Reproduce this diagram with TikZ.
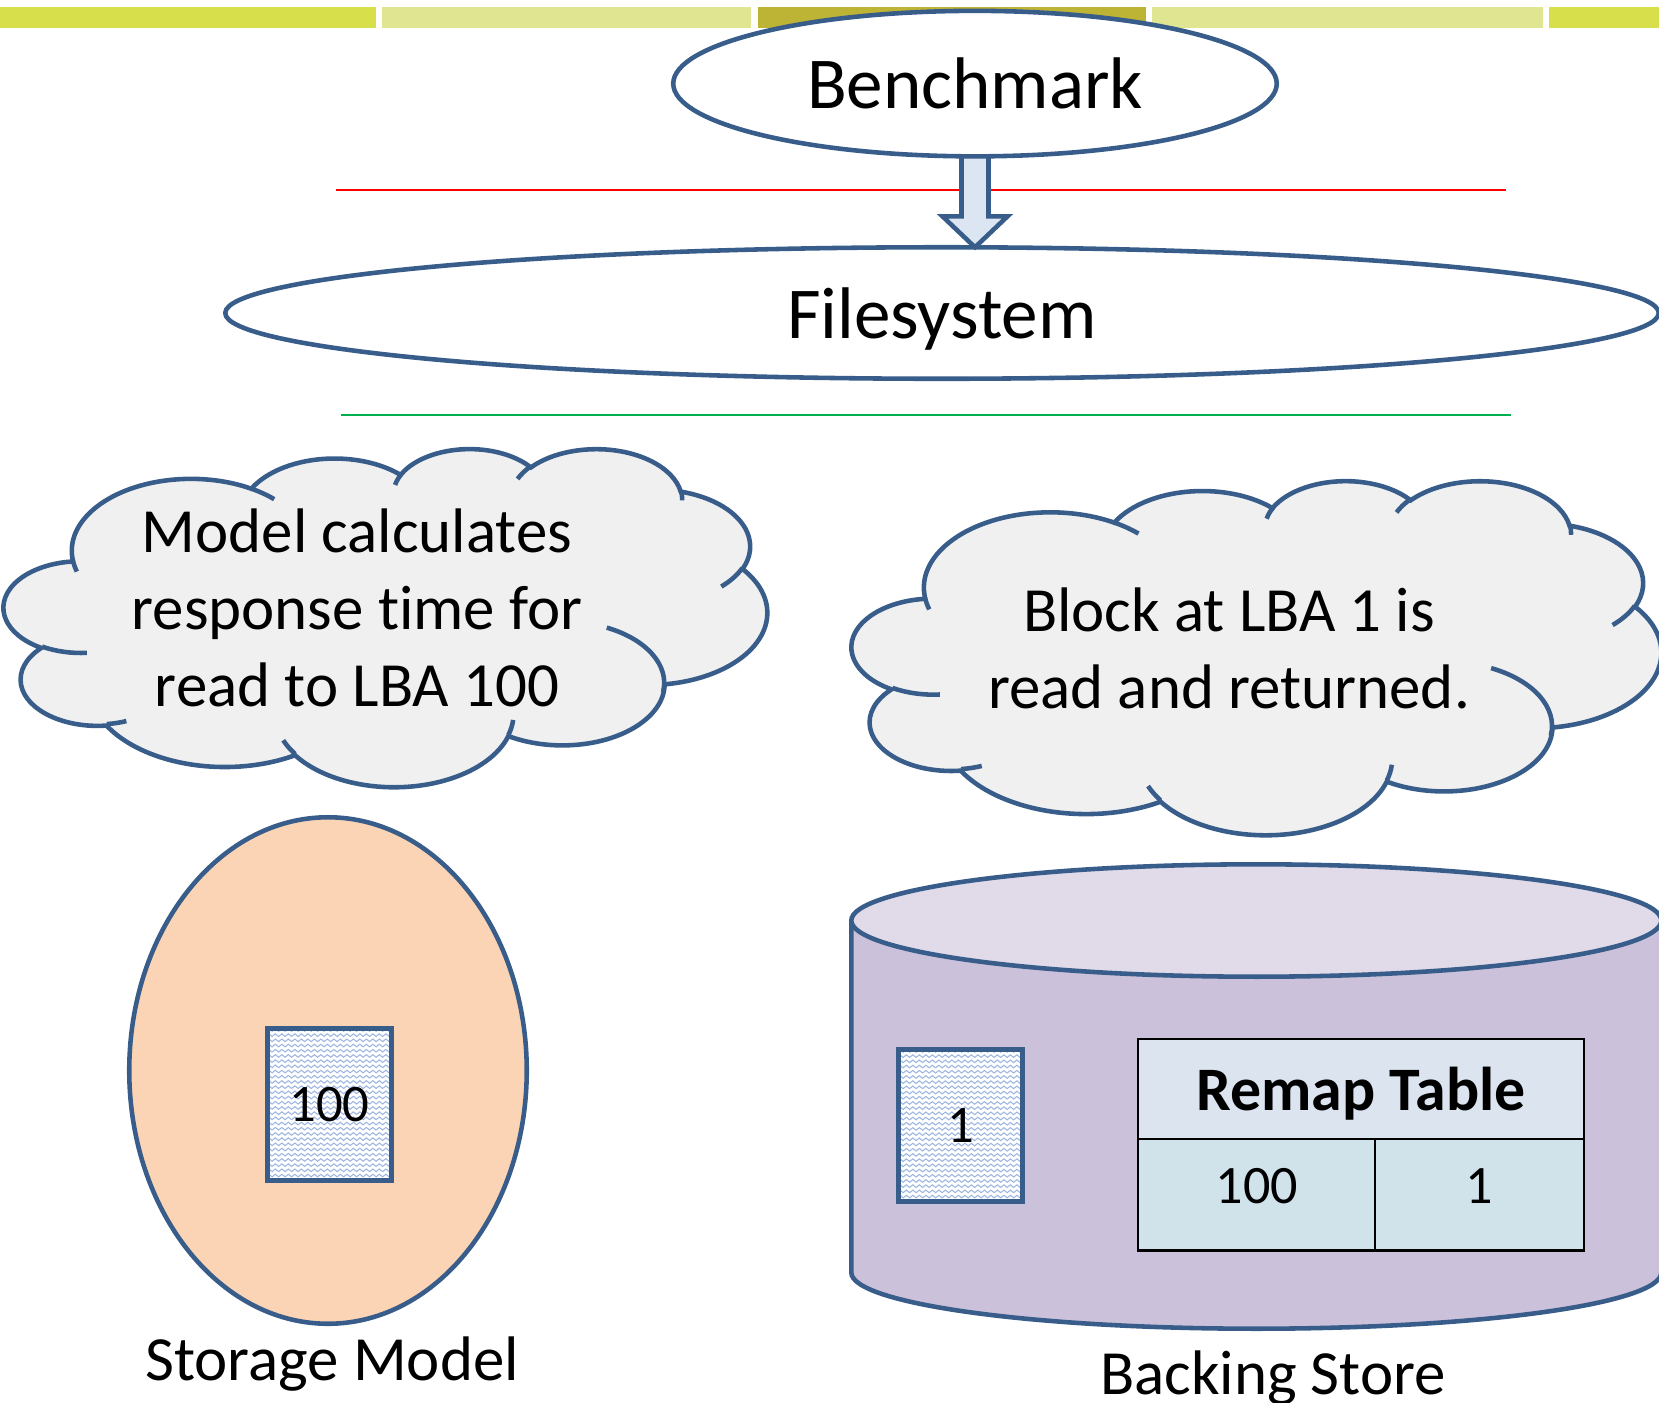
\documentclass[tikz,border=0pt]{standalone}
\usepackage{fontspec}
\setmainfont{Carlito}[Ligatures=NoCommon]
\usepackage{xcolor}
\usetikzlibrary{shapes.geometric, positioning, calc, decorations.pathmorphing}

\definecolor{bordblue}{HTML}{385D8A}
\definecolor{barbright}{HTML}{D7DF4B}
\definecolor{barpale}{HTML}{DFE591}
\definecolor{bardark}{HTML}{BDB436}
\definecolor{sepgreen}{HTML}{00B050}
\definecolor{arrowfill}{HTML}{DCE6F2}
\definecolor{cloudgray}{HTML}{F0F0F0}
\definecolor{peach}{HTML}{FAD4B4}
\definecolor{cylbody}{HTML}{CCC1DA}
\definecolor{cyltop}{HTML}{E0DAE9}
\definecolor{hdrfill}{HTML}{DCE4F0}
\definecolor{cellfill}{HTML}{D0E2EA}
\definecolor{patblue}{HTML}{9DB6E0}

% one arc of the cloud outline (radii, visual start angle, visual sweep)
\newcommand{\cloudarc}[4]{arc[x radius=#1mm, y radius=#2mm,
  start angle={atan2(#1*sin(#3),#2*cos(#3))},
  delta angle={mod(atan2(#1*sin(#3+#4),#2*cos(#3+#4))-atan2(#1*sin(#3),#2*cos(#3))+720,360)}]}

% cloud: top left corner x, y (cm), width, height (cm)
\newcommand{\pptcloud}[4]{%
  \begin{scope}[shift={(#1cm,#2cm)}, x=1mm, y=1mm, xscale=#3/43.2, yscale=-#4/43.2]
    \filldraw[cloudline] (39.00,143.70)
      \cloudarc{67.53}{91.90}{-190.4875}{123.7805}
      \cloudarc{53.33}{72.67}{-144.1024}{89.9452}
      \cloudarc{43.65}{59.45}{-145.8079}{99.7230}
      \cloudarc{48.57}{65.95}{-130.9861}{117.2417}
      \cloudarc{53.33}{72.73}{-78.7089}{109.0269}
      \cloudarc{67.75}{92.20}{-46.2673}{130.2690}
      \cloudarc{57.85}{78.67}{0.6250}{114.0333}
      \cloudarc{67.52}{92.15}{22.4516}{115.1726}
      \cloudarc{77.20}{105.43}{66.2426}{75.7110}
      \cloudarc{43.60}{59.18}{-274.9421}{146.7356}
      \cloudarc{43.45}{59.45}{-246.8285}{152.5189}
      -- cycle;
    \draw[cloudline, fill=none]
      (46.93,261.77) \cloudarc{43.45}{59.45}{86.742}{26.4295}
      (69.28,348.99) \cloudarc{43.60}{59.18}{73.6105}{11.4475}
      (164.78,390.90) \cloudarc{67.52}{92.15}{137.6242}{14.0811}
      (288.27,347.51) \cloudarc{67.52}{92.15}{6.4533}{15.9984}
      (341.29,229.54) \cloudarc{57.85}{78.67}{-70.2924}{81.5698}
      (417.98,153.54) \cloudarc{53.33}{72.73}{30.3180}{24.1933}
      (383.24,54.26) \cloudarc{48.57}{65.95}{-13.7443}{14.8541}
      (290.78,39.52) \cloudarc{48.57}{65.95}{-149.1815}{18.1962}
      (221.41,47.20) \cloudarc{43.65}{59.45}{-163.4943}{17.6881}
      (140.00,51.92) \cloudarc{67.53}{91.90}{-66.7070}{12.3194}
      (41.27,157.89) \cloudarc{67.53}{91.90}{157.6544}{11.8616};
  \end{scope}}

\begin{document}
\begin{tikzpicture}[
    shapeline/.style={draw=bordblue, line width=1.3pt},
    oval/.style={ellipse, shapeline, fill=white, inner sep=0pt, outer sep=0pt, text depth=0pt, font=\fontsize{20.8}{25}\selectfont},
    cloudline/.style={draw=bordblue, line width=1.3pt, fill=cloudgray},
    cloudtext/.style={align=center, font=\fontsize{17.9}{21.9}\selectfont},
    patline/.style={draw=patblue, line width=0.3pt, decorate, decoration={zigzag, amplitude=0.013cm, segment length=0.065cm}},
    blockbox/.style={rectangle, shapeline, fill=white, minimum width=1.245cm, minimum height=1.525cm, inner sep=0pt, font=\fontsize{15}{18}\selectfont,
        path picture={\foreach \k in {1,...,30} \draw[patline] ([yshift=\k*0.052cm]path picture bounding box.south west) -- ([yshift=\k*0.052cm]path picture bounding box.south east);}},
    tablecell/.style={rectangle, draw=black, line width=0.6pt, inner sep=0pt, outer sep=0pt},
    cellnum/.style={font=\fontsize{15.4}{18}\selectfont},
    caption/.style={anchor=base, font=\fontsize{17.9}{21.9}\selectfont},
    blockarrow/.style={shapeline, fill=arrowfill, line join=miter}
]
\useasboundingbox (0,0) rectangle (16.59,-14.02);

% Title bar
\fill[barbright] (0,-0.07) rectangle (3.76,-0.28);
\fill[barpale] (3.82,-0.07) rectangle (7.51,-0.28);
\fill[bardark] (7.58,-0.07) rectangle (11.46,-0.28);
\fill[barpale] (11.52,-0.07) rectangle (15.43,-0.28);
\fill[barbright] (15.49,-0.07) rectangle (16.59,-0.28);

% Layer lines
\draw[red, line width=0.45pt] (3.36,-1.90) -- (15.06,-1.90);
\draw[sepgreen, line width=0.45pt] (3.41,-4.15) -- (15.11,-4.15);

% Benchmark and Filesystem
\node[oval, minimum width=6.035cm, minimum height=1.455cm] (bench) at (9.75,-0.836) {Benchmark};
\node[oval, minimum width=14.335cm, minimum height=1.315cm] (fs) at (9.42,-3.13) {Filesystem};

% Block arrow
\draw[blockarrow] ($(bench.south)+(-0.135,0)$) -- ($(bench.south)+(0.135,0)$)
    -- ($(bench.south)+(0.135,-0.60)$) -- ($(bench.south)+(0.325,-0.60)$)
    -- (bench.south |- fs.north)
    -- ($(bench.south)+(-0.325,-0.60)$) -- ($(bench.south)+(-0.135,-0.60)$) -- cycle;

% Clouds
\pptcloud{0.04}{-4.48}{7.63}{3.38}
\node[cloudtext] (modelnote) at (3.57,-6.08) {Model calculates\\response time for\\read to LBA 100};
\pptcloud{8.52}{-4.80}{8.09}{3.54}
\node[cloudtext] (storenote) at (12.29,-6.48) {Block at LBA 1 is\\read and returned.};

% Storage model
\node[oval, fill=peach, minimum width=3.975cm, minimum height=5.065cm] (model) at (3.28,-10.705) {};
\node[blockbox] (blk100) at (3.295,-11.045) {100};
\node[caption] (modellbl) at (3.32,-13.80) {Storage Model};

% Backing store
\filldraw[shapeline, fill=cylbody] (8.513,-9.205) -- (8.513,-12.725)
    arc[start angle=180, end angle=360, x radius=4.05, y radius=0.562] -- (16.613,-9.205);
\filldraw[shapeline, fill=cyltop] (12.563,-9.205) ellipse[x radius=4.05, y radius=0.562];
\node[blockbox] (blk1) at (9.605,-11.255) {1};
\node[caption] (storelbl) at (12.73,-13.94) {Backing Store};

% Remap table
\node[tablecell, fill=hdrfill, minimum width=4.455cm, minimum height=1.0cm, text depth=0pt, font=\fontsize{17.6}{21}\selectfont\bfseries] (remap) at (13.61,-10.89) {Remap Table};
\node[tablecell, fill=cellfill, minimum width=2.37cm, minimum height=1.115cm, anchor=north west] (lba) at (remap.south west) {};
\node[tablecell, fill=cellfill, minimum width=2.085cm, minimum height=1.115cm, anchor=north west] (pba) at (lba.north east) {};
\node[cellnum] (lbatext) at ([yshift=0.0875cm]lba.center) {100};
\node[cellnum] (pbatext) at ([yshift=0.0875cm]pba.center) {1};

\end{tikzpicture}
\end{document}
